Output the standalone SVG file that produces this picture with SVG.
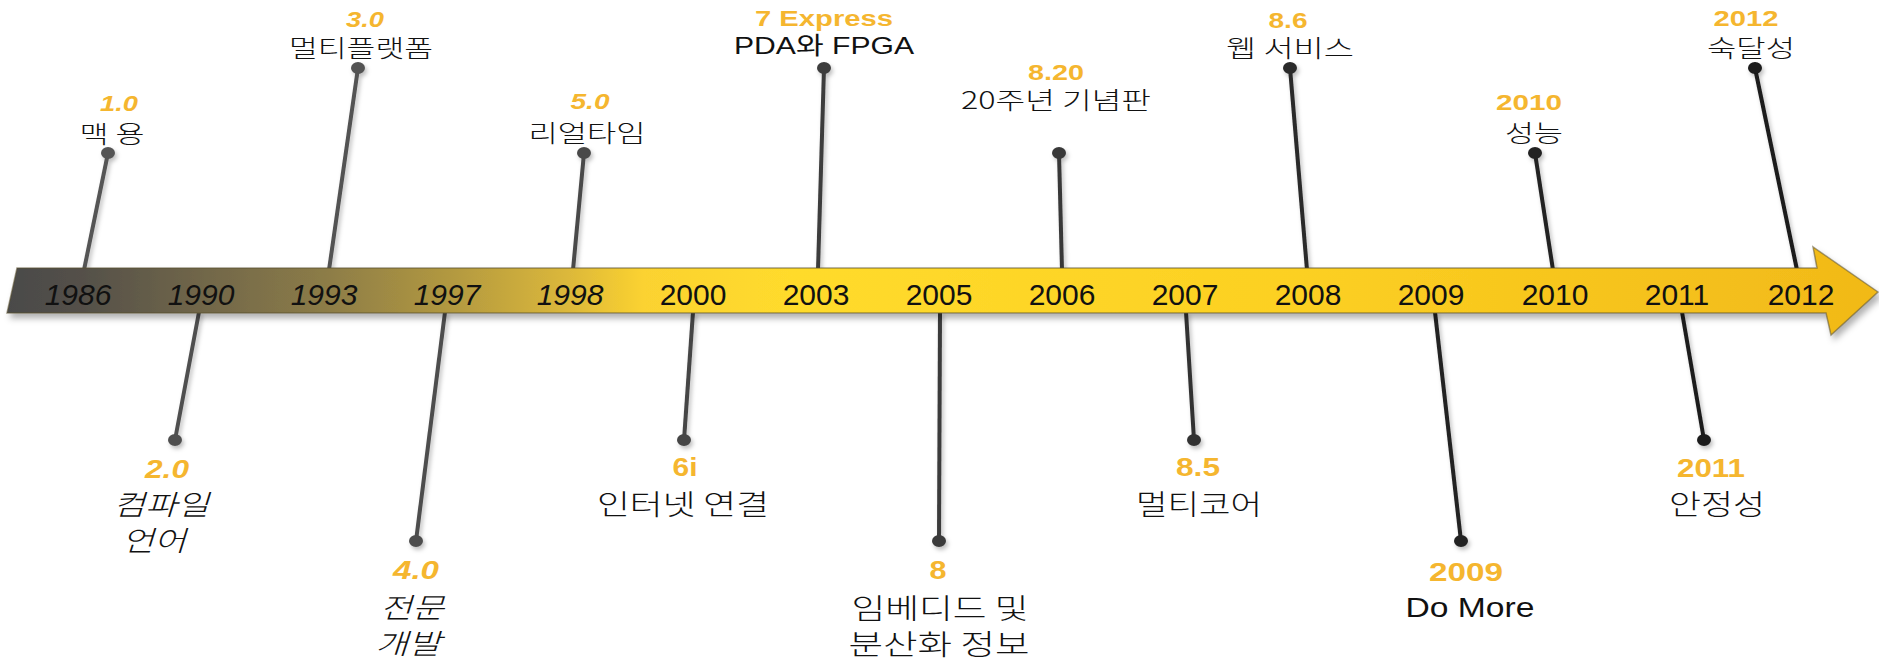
<svg xmlns="http://www.w3.org/2000/svg" width="1879" height="661" viewBox="0 0 1879 661">
<defs>
<linearGradient id="bandGrad" x1="7" y1="0" x2="1878" y2="0" gradientUnits="userSpaceOnUse">
<stop offset="0" stop-color="#4a4a4a"/>
<stop offset="0.04" stop-color="#545049"/>
<stop offset="0.10" stop-color="#6f6549"/>
<stop offset="0.17" stop-color="#8c7c47"/>
<stop offset="0.24" stop-color="#b49a40"/>
<stop offset="0.30" stop-color="#dcb83a"/>
<stop offset="0.34" stop-color="#fbd230"/>
<stop offset="0.42" stop-color="#ffdb2c"/>
<stop offset="0.69" stop-color="#fcd022"/>
<stop offset="1" stop-color="#f1b918"/>
</linearGradient>
<filter id="shadow" x="-5%" y="-30%" width="110%" height="170%">
<feDropShadow dx="3" dy="5" stdDeviation="3" flood-color="#000" flood-opacity="0.3"/>
</filter>
<filter id="soft" x="-50%" y="-10%" width="200%" height="120%">
<feDropShadow dx="2" dy="3" stdDeviation="2" flood-color="#000" flood-opacity="0.25"/>
</filter>
</defs>
<style>
.stem{stroke-width:4;fill:none;stroke-linecap:butt}
.yr{font-family:"Liberation Sans",Arial,sans-serif;font-size:30px;fill:#111;text-anchor:middle}
.it{font-style:italic}
.ver{font-family:"Liberation Sans",Arial,sans-serif;font-weight:bold;fill:#f5b62f;text-anchor:middle}
.vs{font-size:22px}
.vl{font-size:26px}
.ko{font-family:"Noto Sans CJK KR","Liberation Sans",sans-serif;font-weight:300;fill:#111;text-anchor:middle}
.ks{font-size:24px}
.kl{font-size:28px}
.en{font-family:"Liberation Sans",Arial,"Noto Sans CJK KR",sans-serif;fill:#111;text-anchor:middle}
</style>

<g id="connectors" filter="url(#soft)">
<line class="stem" x1="84" y1="270" x2="108" y2="153" stroke="#555"/>
<ellipse cx="108" cy="153" rx="7" ry="6" fill="#555"/>
<line class="stem" x1="329" y1="270" x2="358" y2="68" stroke="#525252"/>
<ellipse cx="358" cy="68" rx="7" ry="6" fill="#525252"/>
<line class="stem" x1="573" y1="270" x2="584" y2="153" stroke="#4a4a4a"/>
<ellipse cx="584" cy="153" rx="7" ry="6" fill="#4a4a4a"/>
<line class="stem" x1="818" y1="270" x2="824" y2="68" stroke="#3d3d3d"/>
<ellipse cx="824" cy="68" rx="7" ry="6" fill="#3d3d3d"/>
<line class="stem" x1="1062" y1="270" x2="1059" y2="153" stroke="#383838"/>
<ellipse cx="1059" cy="153" rx="7" ry="6" fill="#383838"/>
<line class="stem" x1="1307" y1="270" x2="1290" y2="68" stroke="#2a2a2a"/>
<ellipse cx="1290" cy="68" rx="7" ry="6" fill="#2a2a2a"/>
<line class="stem" x1="1553" y1="270" x2="1535" y2="153" stroke="#222"/>
<ellipse cx="1535" cy="153" rx="7" ry="6" fill="#222"/>
<line class="stem" x1="1797" y1="270" x2="1755" y2="68" stroke="#1a1a1a"/>
<ellipse cx="1755" cy="68" rx="7" ry="6" fill="#1a1a1a"/>

<line class="stem" x1="199" y1="312" x2="175" y2="440" stroke="#505050"/>
<ellipse cx="175" cy="440" rx="7" ry="6" fill="#505050"/>
<line class="stem" x1="445" y1="312" x2="416" y2="541" stroke="#4d4d4d"/>
<ellipse cx="416" cy="541" rx="7" ry="6" fill="#4d4d4d"/>
<line class="stem" x1="693" y1="312" x2="684" y2="440" stroke="#444"/>
<ellipse cx="684" cy="440" rx="7" ry="6" fill="#444"/>
<line class="stem" x1="940" y1="312" x2="939" y2="541" stroke="#3a3a3a"/>
<ellipse cx="939" cy="541" rx="7" ry="6" fill="#3a3a3a"/>
<line class="stem" x1="1186" y1="312" x2="1194" y2="440" stroke="#333"/>
<ellipse cx="1194" cy="440" rx="7" ry="6" fill="#333"/>
<line class="stem" x1="1435" y1="312" x2="1461" y2="541" stroke="#222"/>
<ellipse cx="1461" cy="541" rx="7" ry="6" fill="#222"/>
<line class="stem" x1="1682" y1="312" x2="1704" y2="440" stroke="#1e1e1e"/>
<ellipse cx="1704" cy="440" rx="7" ry="6" fill="#1e1e1e"/>
</g>

<g id="timeline">
<polygon points="17,268 1817,268 1813,247 1878,292 1831,335 1826,313 7,313" fill="url(#bandGrad)" stroke="#5a5030" stroke-opacity="0.55" stroke-width="1.5" filter="url(#shadow)"/>
<text class="yr it" x="78" y="305">1986</text>
<text class="yr it" x="201" y="305">1990</text>
<text class="yr it" x="324" y="305">1993</text>
<text class="yr it" x="447" y="305">1997</text>
<text class="yr it" x="570" y="305">1998</text>
<text class="yr" x="693" y="305">2000</text>
<text class="yr" x="816" y="305">2003</text>
<text class="yr" x="939" y="305">2005</text>
<text class="yr" x="1062" y="305">2006</text>
<text class="yr" x="1185" y="305">2007</text>
<text class="yr" x="1308" y="305">2008</text>
<text class="yr" x="1431" y="305">2009</text>
<text class="yr" x="1555" y="305">2010</text>
<text class="yr" x="1677" y="305">2011</text>
<text class="yr" x="1801" y="305">2012</text>
</g>

<g id="v1986">
<text class="ver vs it" x="119" y="111" textLength="38" lengthAdjust="spacingAndGlyphs">1.0</text>
<text class="ko ks" x="112" y="143" textLength="65" lengthAdjust="spacingAndGlyphs">맥 용</text>
</g>
<g id="v1990">
<text class="ver vl it" x="167" y="478" textLength="44" lengthAdjust="spacingAndGlyphs">2.0</text>
<text class="ko kl it" x="161" y="515" textLength="96" lengthAdjust="spacingAndGlyphs">컴파일</text>
<text class="ko kl it" x="154" y="551" textLength="64" lengthAdjust="spacingAndGlyphs">언어</text>
</g>
<g id="v1993">
<text class="ver vs it" x="365" y="27" textLength="38" lengthAdjust="spacingAndGlyphs">3.0</text>
<text class="ko ks" x="361" y="57" textLength="144" lengthAdjust="spacingAndGlyphs">멀티플랫폼</text>
</g>
<g id="v1997">
<text class="ver vl it" x="416" y="579" textLength="46" lengthAdjust="spacingAndGlyphs">4.0</text>
<text class="ko kl it" x="412" y="618" textLength="64" lengthAdjust="spacingAndGlyphs">전문</text>
<text class="ko kl it" x="408" y="654" textLength="66" lengthAdjust="spacingAndGlyphs">개발</text>
</g>
<g id="v1998">
<text class="ver vs it" x="590" y="109" textLength="39" lengthAdjust="spacingAndGlyphs">5.0</text>
<text class="ko ks" x="587" y="142" textLength="117" lengthAdjust="spacingAndGlyphs">리얼타임</text>
</g>
<g id="v2000">
<text class="ver vl" x="685" y="476" textLength="25" lengthAdjust="spacingAndGlyphs">6i</text>
<text class="ko kl" x="683" y="515" textLength="172" lengthAdjust="spacingAndGlyphs">인터넷 연결</text>
</g>
<g id="v2003">
<text class="ver vs" x="824" y="26" textLength="138" lengthAdjust="spacingAndGlyphs">7 Express</text>
<text class="en ks" x="824" y="54" textLength="180" lengthAdjust="spacingAndGlyphs">PDA와 FPGA</text>
</g>
<g id="v2005">
<text class="ver vl" x="938" y="579" textLength="17" lengthAdjust="spacingAndGlyphs">8</text>
<text class="ko kl" x="940" y="619" textLength="177" lengthAdjust="spacingAndGlyphs">임베디드 및</text>
<text class="ko kl" x="939" y="655" textLength="181" lengthAdjust="spacingAndGlyphs">분산화 정보</text>
</g>
<g id="v2006">
<text class="ver vs" x="1056" y="80" textLength="56" lengthAdjust="spacingAndGlyphs">8.20</text>
<text class="ko ks" x="1056" y="109" textLength="190" lengthAdjust="spacingAndGlyphs">20주년 기념판</text>
</g>
<g id="v2007">
<text class="ver vl" x="1198" y="476" textLength="44" lengthAdjust="spacingAndGlyphs">8.5</text>
<text class="ko kl" x="1199" y="515" textLength="126" lengthAdjust="spacingAndGlyphs">멀티코어</text>
</g>
<g id="v2008">
<text class="ver vs" x="1288" y="28" textLength="39" lengthAdjust="spacingAndGlyphs">8.6</text>
<text class="ko ks" x="1290" y="57" textLength="128" lengthAdjust="spacingAndGlyphs">웹 서비스</text>
</g>
<g id="v2009">
<text class="ver vl" x="1466" y="581" textLength="74" lengthAdjust="spacingAndGlyphs">2009</text>
<text class="en" font-size="28" x="1470" y="617" textLength="129" lengthAdjust="spacingAndGlyphs">Do More</text>
</g>
<g id="v2010">
<text class="ver vs" x="1529" y="110" textLength="66" lengthAdjust="spacingAndGlyphs">2010</text>
<text class="ko ks" x="1534" y="142" textLength="58" lengthAdjust="spacingAndGlyphs">성능</text>
</g>
<g id="v2011">
<text class="ver vl" x="1711" y="477" textLength="68" lengthAdjust="spacingAndGlyphs">2011</text>
<text class="ko kl" x="1717" y="515" textLength="96" lengthAdjust="spacingAndGlyphs">안정성</text>
</g>
<g id="v2012">
<text class="ver vs" x="1746" y="26" textLength="65" lengthAdjust="spacingAndGlyphs">2012</text>
<text class="ko ks" x="1751" y="57" textLength="88" lengthAdjust="spacingAndGlyphs">숙달성</text>
</g>
</svg>
